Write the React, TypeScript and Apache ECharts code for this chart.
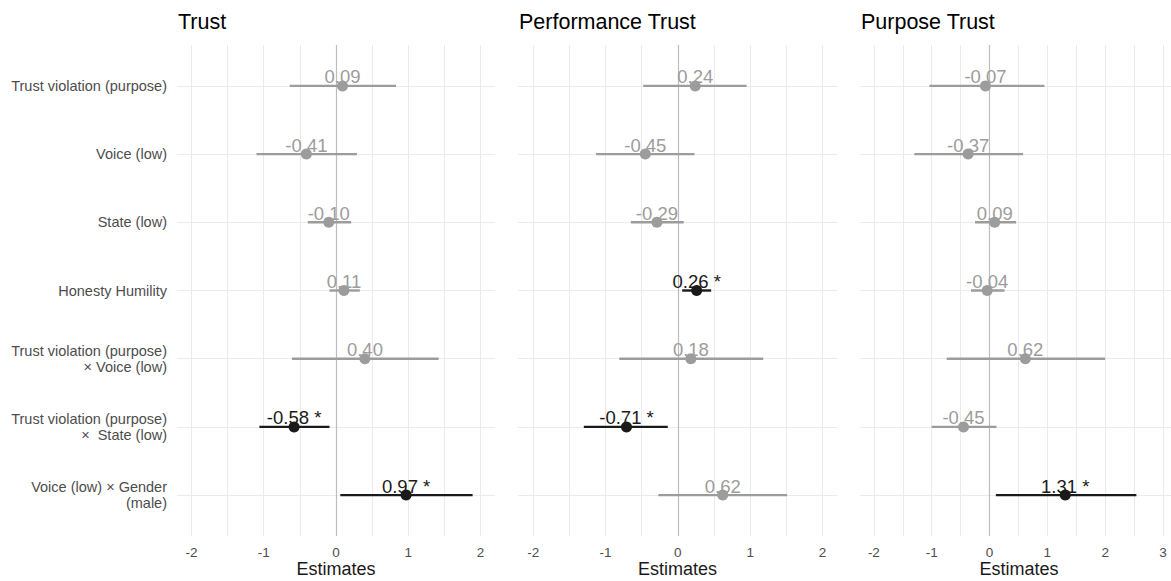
import React, { useEffect, useRef } from "react";
import * as echarts from "echarts";

const categories = [
  "Trust violation (purpose)",
  "Voice (low)",
  "State (low)",
  "Honesty Humility",
  "Trust violation (purpose)\n× Voice (low)",
  "Trust violation (purpose)\n×  State (low)",
  "Voice (low) × Gender\n(male)",
];

const panelTitles = ["Trust", "Performance Trust", "Purpose Trust"];

const trustEst = [0.09, -0.41, -0.1, 0.11, 0.4, -0.58, 0.97];
const trustLow = [-0.64, -1.1, -0.39, -0.09, -0.61, -1.06, 0.06];
const trustHigh = [0.83, 0.29, 0.21, 0.33, 1.42, -0.09, 1.89];
const trustSig = [0, 0, 0, 0, 0, 1, 1];

const perfEst = [0.24, -0.45, -0.29, 0.26, 0.18, -0.71, 0.62];
const perfLow = [-0.48, -1.13, -0.65, 0.06, -0.81, -1.3, -0.27];
const perfHigh = [0.95, 0.23, 0.08, 0.46, 1.18, -0.14, 1.51];
const perfSig = [0, 0, 0, 1, 0, 1, 0];

const purpEst = [-0.07, -0.37, 0.09, -0.04, 0.62, -0.45, 1.31];
const purpLow = [-1.04, -1.3, -0.25, -0.32, -0.74, -1.0, 0.11];
const purpHigh = [0.95, 0.58, 0.46, 0.26, 2.0, 0.12, 2.54];
const purpSig = [0, 0, 0, 0, 0, 0, 1];

const xTicks12 = [-2, -1, 0, 1, 2];
const xTicks3 = [-2, -1, 0, 1, 2, 3];
const xGrid12 = [-2, -1.5, -1, -0.5, 0, 0.5, 1, 1.5, 2];
const xGrid3 = [-2, -1.5, -1, -0.5, 0, 0.5, 1, 1.5, 2, 2.5, 3];

const FONT = "'Liberation Sans', Arial, Helvetica, sans-serif";
const GREY = "#9c9c9c";
const DARK = "#1a1a1a";

export default function App() {
  const ref = useRef<HTMLDivElement>(null);

  useEffect(() => {
    if (!ref.current) return;
    const chart = echarts.init(ref.current, null, { renderer: "svg" });

    const panels = [
      { est: trustEst, low: trustLow, high: trustHigh, sig: trustSig, min: -2.2, max: 2.2, ticks: xTicks12, grid: xGrid12, left: 177, width: 318 },
      { est: perfEst, low: perfLow, high: perfHigh, sig: perfSig, min: -2.21, max: 2.2, ticks: xTicks12, grid: xGrid12, left: 518, width: 319 },
      { est: purpEst, low: purpLow, high: purpHigh, sig: purpSig, min: -2.24, max: 3.26, ticks: xTicks3, grid: xGrid3, left: 860, width: 318 },
    ];
    const rows = categories.map((_, i) => i + 1);

    const grids: any[] = [];
    const xAxes: any[] = [];
    const yAxes: any[] = [];
    const series: any[] = [];
    const titles: any[] = [];

    panels.forEach((p, k) => {
      grids.push({ left: p.left, top: 45, width: p.width, height: 491, containLabel: false, outerBoundsMode: "none" });
      titles.push({
        text: panelTitles[k],
        left: p.left + 1,
        top: 11,
        padding: 0,
        textStyle: { fontFamily: FONT, fontSize: 21.5, fontWeight: "normal", color: "#000" },
      });
      xAxes.push({
        type: "value",
        gridIndex: k,
        min: p.min,
        max: p.max,
        axisLine: { show: false },
        axisTick: { show: false },
        splitLine: { show: false },
        axisLabel: {
          customValues: p.ticks,
          color: "#4d4d4d",
          fontFamily: FONT,
          fontSize: 13.5,
          margin: 9,
          formatter: (v: number) => String(v),
        },
        name: "Estimates",
        nameLocation: "middle",
        nameGap: 24,
        nameMoveOverlap: false,
        nameTextStyle: { fontFamily: FONT, fontSize: 18, lineHeight: 18, color: DARK },
      });
      yAxes.push({
        type: "value",
        gridIndex: k,
        inverse: true,
        min: 0.4,
        max: 7.6,
        axisLine: { show: false },
        axisTick: { show: false },
        splitLine: { show: false },
        axisLabel: {
          show: k === 0,
          customValues: rows,
          color: "#4d4d4d",
          fontFamily: FONT,
          fontSize: 14.5,
          lineHeight: 16,
          align: "right",
          margin: 10,
          formatter: (v: number) => categories[Math.round(v) - 1] || "",
        },
      });

      series.push({
        type: "line",
        xAxisIndex: k,
        yAxisIndex: k,
        data: [],
        silent: true,
        z: 1,
        markLine: {
          silent: true,
          z: 1,
          symbol: "none",
          animation: false,
          label: { show: false },
          lineStyle: { color: "#ebebeb", width: 1, type: "solid" },
          data: [
            ...p.grid.map((v) => ({ xAxis: v })),
            ...rows.map((r) => ({ yAxis: r })),
          ],
        },
      });
      series.push({
        type: "line",
        xAxisIndex: k,
        yAxisIndex: k,
        data: [],
        silent: true,
        z: 2,
        markLine: {
          silent: true,
          z: 2,
          symbol: "none",
          animation: false,
          label: { show: false },
          lineStyle: { color: "#bdbdbd", width: 1.2, type: "solid" },
          data: [{ xAxis: 0 }],
        },
      });
      series.push({
        type: "custom",
        xAxisIndex: k,
        yAxisIndex: k,
        z: 3,
        encode: { x: [0, 1], y: 2 },
        data: rows.map((r, i) => [p.low[i], p.high[i], r, p.sig[i]]),
        renderItem: (params: any, api: any) => {
          const a = api.coord([api.value(0), api.value(2)]);
          const b = api.coord([api.value(1), api.value(2)]);
          return {
            type: "rect",
            shape: { x: a[0], y: a[1] - 1.2, width: b[0] - a[0], height: 2.4 },
            style: { fill: api.value(3) ? DARK : GREY, stroke: null },
          };
        },
      });
      series.push({
        type: "scatter",
        xAxisIndex: k,
        yAxisIndex: k,
        z: 4,
        symbolSize: 11,
        label: {
          show: true,
          position: "inside",
          offset: [0, -9],
          fontFamily: FONT,
          fontSize: 18.5,
          formatter: (prm: any) => {
            const i = prm.dataIndex;
            return p.est[i].toFixed(2) + (p.sig[i] ? " *" : "");
          },
        },
        data: rows.map((r, i) => ({
          value: [p.est[i], r],
          itemStyle: { color: p.sig[i] ? DARK : GREY, opacity: 1 },
          label: { color: p.sig[i] ? DARK : GREY },
        })),
      });
    });

    chart.setOption({
      animation: false,
      backgroundColor: "#ffffff",
      title: titles,
      grid: grids,
      xAxis: xAxes,
      yAxis: yAxes,
      series,
    });

    return () => chart.dispose();
  }, []);

  return (
    <div
      ref={ref}
      style={{ position: "fixed", left: 0, top: 0, width: 1171, height: 581 }}
    />
  );
}
